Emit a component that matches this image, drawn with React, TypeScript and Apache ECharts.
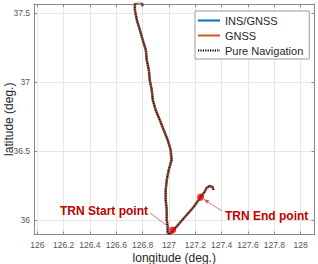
import React, { useEffect, useRef } from "react";
import * as echarts from "echarts";

const trackLon = [
  127.338, 127.33, 127.308, 127.285, 127.27, 127.24, 127.187, 127.134, 127.081, 127.028,
  127.005, 126.99, 126.99, 126.983, 126.983, 126.975, 126.975, 126.983, 126.998, 127.02,
  127.013, 126.99, 126.96, 126.93, 126.899, 126.877, 126.869, 126.854, 126.847, 126.831,
  126.824, 126.801, 126.779, 126.756, 126.741, 126.741, 126.763, 126.794, 126.801,
];
const trackLat = [
  36.22, 36.241, 36.249, 36.234, 36.205, 36.168, 36.096, 36.038, 35.98, 35.922,
  35.9, 35.908, 35.951, 36.002, 36.074, 36.147, 36.219, 36.292, 36.364, 36.437,
  36.509, 36.582, 36.654, 36.727, 36.799, 36.872, 36.944, 37.016, 37.089, 37.161,
  37.234, 37.306, 37.379, 37.451, 37.524, 37.567, 37.582, 37.575, 37.553,
];
const startPoint = [127.028, 35.93];
const endPoint = [127.24, 36.168];
const seriesNames = ["INS/GNSS", "GNSS", "Pure Navigation"];
const seriesColors = ["#0072BD", "#D95319", "#000000"];
const xRange = [125.975, 128.105];
const yRange = [35.897, 37.567];
const annotationTexts = ["TRN Start point", "TRN End point"];

export default function App() {
  const ref = useRef<HTMLDivElement>(null);
  useEffect(() => {
    if (!ref.current) return;
    const chart = echarts.init(ref.current, null, { renderer: "svg" });
    const track = trackLon.map((v, i) => [v, trackLat[i]]);
    const axisLine = { show: true, lineStyle: { color: "#8a8a8a", width: 1 } };
    const tick = { show: true, inside: true, length: 3, lineStyle: { color: "#8a8a8a" } };
    const font = "Liberation Sans, Arial, sans-serif";
    chart.setOption({
      animation: false,
      backgroundColor: "#ffffff",
      grid: {
        left: 34,
        right: 3.5,
        top: 4,
        bottom: 29.5,
        containLabel: false,
        outerBoundsMode: "none",
      },
      legend: {
        data: seriesNames,
        orient: "vertical",
        left: 195,
        top: 11,
        width: 109,
        padding: [3, 6, 2, 2],
        itemGap: 2,
        itemWidth: 22,
        itemHeight: 10,
        borderColor: "#9a9a9a",
        borderWidth: 1,
        backgroundColor: "#ffffff",
        itemStyle: { opacity: 0 },
        textStyle: { fontFamily: font, fontSize: 11, color: "#262626", lineHeight: 13 },
      },
      xAxis: [
        {
          type: "value",
          min: xRange[0],
          max: xRange[1],
          splitNumber: 10,
          axisLine,
          axisTick: tick,
          axisLabel: {
            showMinLabel: false,
            showMaxLabel: false,
            fontFamily: font,
            fontSize: 8.5,
            color: "#555",
            margin: 6,
          },
          splitLine: { show: true, lineStyle: { color: "#e6e6e6" } },
          name: "longitude (deg.)",
          nameLocation: "middle",
          nameGap: 16.5,
          nameMoveOverlap: false,
          nameTextStyle: { fontFamily: font, fontSize: 12, color: "#262626", lineHeight: 13 },
        },
        {
          type: "value",
          position: "top",
          min: xRange[0],
          max: xRange[1],
          splitNumber: 10,
          axisLine,
          axisTick: tick,
          axisLabel: { show: false },
          splitLine: { show: false },
        },
      ],
      yAxis: [
        {
          type: "value",
          min: yRange[0],
          max: yRange[1],
          splitNumber: 3,
          axisLine,
          axisTick: tick,
          axisLabel: {
            showMinLabel: false,
            showMaxLabel: false,
            fontFamily: font,
            fontSize: 8.5,
            color: "#555",
            margin: 4,
          },
          splitLine: { show: true, lineStyle: { color: "#e6e6e6" } },
          name: "latitude (deg.)",
          nameLocation: "middle",
          nameGap: 19,
          nameMoveOverlap: false,
          nameTextStyle: { fontFamily: font, fontSize: 12, color: "#262626" },
        },
        {
          type: "value",
          position: "right",
          min: yRange[0],
          max: yRange[1],
          splitNumber: 3,
          axisLine,
          axisTick: tick,
          axisLabel: { show: false },
          splitLine: { show: false },
        },
      ],
      series: [
        {
          name: seriesNames[0],
          type: "line",
          data: track,
          symbol: "none",
          lineStyle: { color: seriesColors[0], width: 2.5 },
          itemStyle: { color: seriesColors[0] },
        },
        {
          name: seriesNames[1],
          type: "line",
          data: track,
          symbol: "none",
          lineStyle: { color: seriesColors[1], width: 2 },
          itemStyle: { color: seriesColors[1] },
        },
        {
          name: seriesNames[2],
          type: "line",
          data: track,
          symbol: "none",
          lineStyle: { color: seriesColors[2], width: 1.2, type: [1.2, 1.2] },
          itemStyle: { color: seriesColors[2] },
        },
        {
          name: "TRN points",
          type: "scatter",
          data: [startPoint, endPoint],
          symbolSize: 7,
          itemStyle: { color: "#e00000" },
          z: 5,
        },
      ],
    });
    const sp = chart.convertToPixel({ gridIndex: 0 }, startPoint) as number[];
    const ep = chart.convertToPixel({ gridIndex: 0 }, endPoint) as number[];
    const arrowColor = "#e0506a";
    const sFrom = [150, 213];
    const eFrom = [222, 211];
    const head = (from: number[], to: number[]) => {
      const dx = to[0] - from[0];
      const dy = to[1] - from[1];
      const len = Math.sqrt(dx * dx + dy * dy);
      const ux = dx / len;
      const uy = dy / len;
      const tip = [to[0] - ux * 4, to[1] - uy * 4];
      const base = [tip[0] - ux * 5, tip[1] - uy * 5];
      return {
        type: "polygon",
        shape: {
          points: [tip, [base[0] - uy * 2, base[1] + ux * 2], [base[0] + uy * 2, base[1] - ux * 2]],
        },
        style: { fill: arrowColor },
        z: 20,
      };
    };
    chart.setOption({
      graphic: [
        {
          type: "line",
          shape: { x1: sFrom[0], y1: sFrom[1], x2: sp[0] - 2, y2: sp[1] - 1.5 },
          style: { stroke: arrowColor, lineWidth: 0.8 },
          z: 20,
        },
        {
          type: "line",
          shape: { x1: eFrom[0], y1: eFrom[1], x2: ep[0] + 3, y2: ep[1] + 2 },
          style: { stroke: arrowColor, lineWidth: 0.8 },
          z: 20,
        },
        head(eFrom, ep),
        {
          type: "text",
          x: 148,
          y: 211,
          style: {
            text: annotationTexts[0],
            fill: "#c00000",
            font: "bold 12px Liberation Sans, Arial, sans-serif",
            align: "right",
            verticalAlign: "middle",
          },
          z: 21,
        },
        {
          type: "text",
          x: 225,
          y: 216,
          style: {
            text: annotationTexts[1],
            fill: "#c00000",
            font: "bold 12px Liberation Sans, Arial, sans-serif",
            align: "left",
            verticalAlign: "middle",
          },
          z: 21,
        },
      ],
    });
    return () => chart.dispose();
  }, []);
  return (
    <div
      ref={ref}
      style={{ position: "fixed", left: 0, top: 0, width: 318, height: 264, background: "#fff" }}
    />
  );
}
